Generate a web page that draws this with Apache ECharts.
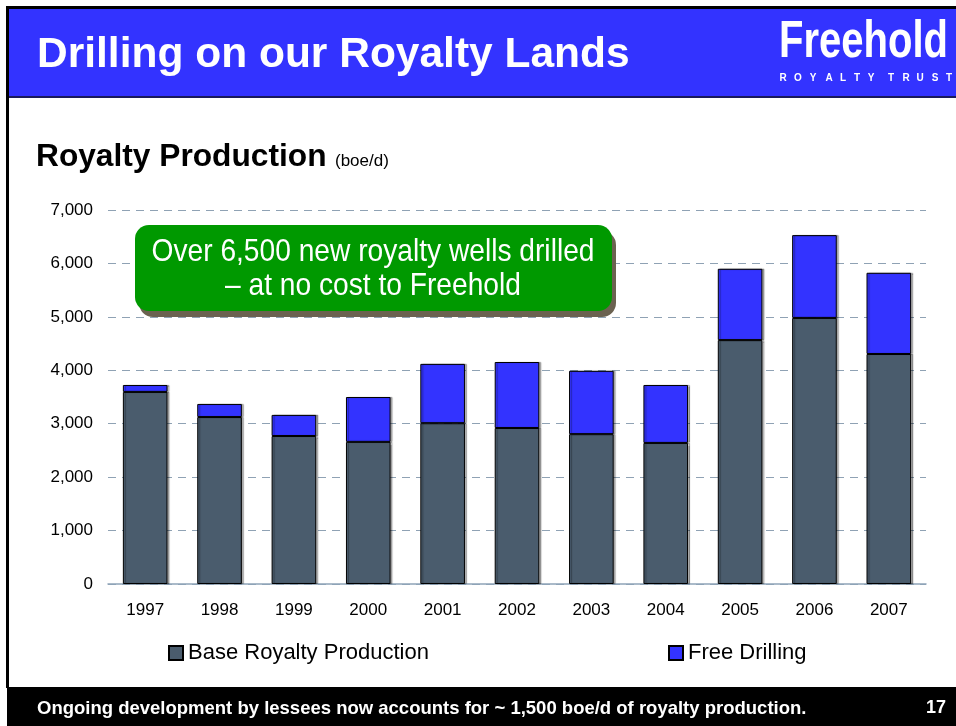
<!DOCTYPE html>
<html>
<head>
<meta charset="utf-8">
<title>Drilling on our Royalty Lands</title>
<script src="https://cdn.jsdelivr.net/npm/echarts@6/dist/echarts.min.js"></script>
<style>
  html, body { margin: 0; padding: 0; background: #fff; }
  #chart { width: 956px; height: 726px; }
</style>
</head>
<body>
<div id="chart"></div>
<script>
'use strict';

// data (boe/d)
var years = ['1997', '1998', '1999', '2000', '2001', '2002', '2003', '2004', '2005', '2006', '2007'];
var baseRoyalty = [3595, 3125, 2770, 2660, 3010, 2920, 2805, 2640, 4565, 4980, 4305];
var freeDrilling = [130, 245, 395, 840, 1110, 1235, 1185, 1085, 1335, 1550, 1520];
var seriesNames = ['Base Royalty Production', 'Free Drilling'];
var yMin = 0, yMax = 7000, yStep = 1000;

var FONT = '"Liberation Sans", Arial, sans-serif';

var myChart = echarts.init(document.getElementById('chart'));

// bar style shared by both stacks
function barStyle(color) {
    return {
        color: color,
        borderColor: '#000',
        borderWidth: 1,
        shadowColor: 'rgba(0,0,0,0.3)',
        shadowOffsetX: 2,
        shadowOffsetY: 0,
        shadowBlur: 1
    };
}

// spaced-out "ROYALTY TRUST" under the logo, one letter at a time
var trust = 'ROYALTYTRUST';
var trustX = [783, 798, 813, 829, 843, 857, 871, 891, 906, 920, 935, 949];
var trustLetters = [];
for (let i = 0; i < trust.length; i++) {
    trustLetters.push({
        type: 'text', x: trustX[i], y: 78.5,
        style: {
            text: trust[i], fill: '#fff', font: '900 10px ' + FONT,
            align: 'center', verticalAlign: 'middle'
        }
    });
}

var option = {
    animation: false,
    backgroundColor: '#fff',
    textStyle: { fontFamily: FONT },
    grid: { left: 108, right: 30, top: 210, bottom: 142, containLabel: false },
    legend: [
        {
            left: 163, top: 637,
            data: [seriesNames[0]],
            icon: 'rect', itemWidth: 14, itemHeight: 14,
            textStyle: { fontSize: 22, color: '#000', fontFamily: FONT }
        },
        {
            left: 663, top: 637,
            data: [seriesNames[1]],
            icon: 'rect', itemWidth: 14, itemHeight: 14,
            textStyle: { fontSize: 22, color: '#000', fontFamily: FONT }
        }
    ],
    xAxis: {
        type: 'category',
        data: years,
        axisLine: { lineStyle: { color: '#8EA4B8', width: 1.5 } },
        axisTick: { show: false },
        axisLabel: { color: '#000', fontSize: 17, margin: 18, fontFamily: FONT }
    },
    yAxis: {
        type: 'value',
        min: yMin, max: yMax, interval: yStep,
        axisLine: { show: false },
        axisTick: { show: false },
        axisLabel: {
            color: '#000', fontSize: 17, margin: 15, fontFamily: FONT,
            formatter: function(v) { return v.toLocaleString('en-US'); }
        },
        splitLine: { lineStyle: { color: '#8FA2B4', type: [8, 6], width: 1.2 } }
    },
    series: [
        {
            name: seriesNames[0], type: 'bar', stack: 'prod',
            barCategoryGap: '40%',
            itemStyle: barStyle('#4A5C6D'),
            data: baseRoyalty
        },
        {
            name: seriesNames[1], type: 'bar', stack: 'prod',
            barCategoryGap: '40%',
            itemStyle: barStyle('#3333FF'),
            data: freeDrilling
        }
    ],
    graphic: [
        // slide frame + blue header
        { type: 'rect', shape: { x: 6, y: 6, width: 950, height: 3 }, style: { fill: '#000' }, silent: true },
        { type: 'rect', shape: { x: 6, y: 6, width: 3, height: 682 }, style: { fill: '#000' }, silent: true },
        { type: 'rect', shape: { x: 9, y: 9, width: 947, height: 87 }, style: { fill: '#3333FF' }, silent: true },
        { type: 'rect', shape: { x: 9, y: 96, width: 947, height: 2 }, style: { fill: '#1A1A5C' }, silent: true },
        {
            type: 'text', x: 37, y: 55,
            style: { text: 'Drilling on our Royalty Lands', fill: '#fff', font: 'bold 42.5px ' + FONT, verticalAlign: 'middle' }
        },
        // logo (narrowed to look like a condensed face)
        {
            type: 'text', x: 779, y: 43, scaleX: 0.77,
            style: { text: 'Freehold', fill: '#fff', font: 'bold 52px ' + FONT, verticalAlign: 'middle' }
        }
    ].concat(trustLetters).concat([
        // chart heading
        {
            type: 'text', x: 36, y: 157,
            style: { text: 'Royalty Production', fill: '#000', font: 'bold 31.7px ' + FONT, verticalAlign: 'middle' }
        },
        {
            type: 'text', x: 335, y: 161,
            style: { text: '(boe/d)', fill: '#000', font: '17px ' + FONT, verticalAlign: 'middle' }
        },
        // green callout
        {
            type: 'rect', z: 100,
            shape: { x: 139, y: 231, width: 477, height: 86, r: 14 },
            style: { fill: '#6B6250' }
        },
        {
            type: 'rect', z: 101,
            shape: { x: 135, y: 225, width: 477, height: 86, r: 14 },
            style: { fill: '#009900' }
        },
        {
            type: 'text', z: 102, x: 373, y: 252, scaleX: 0.88,
            style: {
                text: 'Over 6,500 new royalty wells drilled', fill: '#fff',
                font: '32px ' + FONT, align: 'center', verticalAlign: 'middle'
            }
        },
        {
            type: 'text', z: 102, x: 373, y: 286, scaleX: 0.88,
            style: {
                text: '\u2013 at no cost to Freehold', fill: '#fff',
                font: '32px ' + FONT, align: 'center', verticalAlign: 'middle'
            }
        },
        // footer
        { type: 'rect', shape: { x: 7, y: 687, width: 949, height: 39 }, style: { fill: '#000' }, silent: true },
        {
            type: 'text', x: 37, y: 709,
            style: {
                text: 'Ongoing development by lessees now accounts for ~ 1,500 boe/d of royalty production.',
                fill: '#fff', font: 'bold 18.5px ' + FONT, verticalAlign: 'middle'
            }
        },
        {
            type: 'text', x: 946, y: 708,
            style: { text: '17', fill: '#fff', font: 'bold 18px ' + FONT, align: 'right', verticalAlign: 'middle' }
        }
    ])
};

myChart.setOption(option);
</script>
</body>
</html>
